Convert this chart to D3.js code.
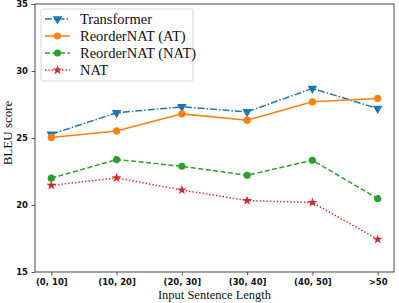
<!DOCTYPE html>
<html>
<head>
<meta charset="utf-8">
<script src="https://cdn.jsdelivr.net/npm/d3@7"></script>
<style>
  body { margin: 0; background: white; }
  svg { display: block; }
</style>
</head>
<body>
<div id="chart"></div>
<script>
var categories = ['(0, 10]', '(10, 20]', '(20, 30]', '(30, 40]', '(40, 50]', '>50'];
var transformer = [25.28, 26.88, 27.33, 26.95, 28.7, 27.2];
var reorder_at = [25.04, 25.53, 26.8, 26.33, 27.7, 27.95];
var reorder_nat = [22.0, 23.39, 22.89, 22.22, 23.34, 20.48];
var nat = [21.47, 22.02, 21.12, 20.33, 20.18, 17.44];
var y_ticks = [15, 20, 25, 30, 35];

var series = [
  {name: 'Transformer', values: transformer, color: '#1f77b4', dash: '7,2,1.5,2', marker: 'triangle'},
  {name: 'ReorderNAT (AT)', values: reorder_at, color: '#ff7f0e', dash: null, marker: 'circle'},
  {name: 'ReorderNAT (NAT)', values: reorder_nat, color: '#2ca02c', dash: '5,2.5', marker: 'circle'},
  {name: 'NAT', values: nat, color: '#d62728', dash: '1.4,2', marker: 'star'}
];

var width = 399, height = 303;
var margin = {top: 4, right: 5, bottom: 31, left: 35};
var plot_w = width - margin.left - margin.right;
var plot_h = height - margin.top - margin.bottom;

var svg = d3.select('#chart').append('svg')
    .attr('width', width)
    .attr('height', height);
var g = svg.append('g')
    .attr('transform', 'translate(' + margin.left + ',' + margin.top + ')');

var x = d3.scaleLinear().domain([-0.25, categories.length - 0.75]).range([0, plot_w]);
var y = d3.scaleLinear().domain([15, 35]).range([plot_h, 0]);

// axes
var tick_font = '"DejaVu Sans", sans-serif';
var x_axis = g.append('g')
    .attr('transform', 'translate(0,' + plot_h + ')')
    .call(d3.axisBottom(x).tickValues(d3.range(categories.length))
        .tickFormat(function(i) { return categories[i]; })
        .tickSize(3.5).tickPadding(3.5));
var y_axis = g.append('g')
    .call(d3.axisLeft(y).tickValues(y_ticks).tickSize(3.5).tickPadding(3.5));
[x_axis, y_axis].forEach(function(a) {
  a.select('.domain').remove();
  a.selectAll('line').attr('stroke', '#333').attr('stroke-width', 0.8);
  a.selectAll('text')
    .attr('fill', '#111')
    .style('font-family', tick_font)
    .style('font-weight', 'bold')
    .style('font-size', '8.5px');
});

// frame
g.append('rect')
    .attr('x', 0).attr('y', 0)
    .attr('width', plot_w).attr('height', plot_h)
    .attr('fill', 'none')
    .attr('stroke', '#333')
    .attr('stroke-width', 0.9);

// axis labels
svg.append('text')
    .attr('x', margin.left + plot_w / 2)
    .attr('y', 299)
    .attr('text-anchor', 'middle')
    .style('font-family', '"Liberation Serif", serif')
    .style('font-size', '12.5px')
    .attr('fill', '#111')
    .text('Input Sentence Length');
svg.append('text')
    .attr('transform', 'translate(12,133) rotate(-90)')
    .attr('text-anchor', 'middle')
    .style('font-family', '"Liberation Serif", serif')
    .style('font-size', '13px')
    .attr('fill', '#111')
    .text('BLEU score');

function draw_marker(sel, kind, color, cx, cy) {
  if (kind === 'circle') {
    sel.append('circle').attr('cx', cx).attr('cy', cy).attr('r', 3.6).attr('fill', color);
  } else if (kind === 'triangle') {
    sel.append('path')
      .attr('d', d3.symbol().type(d3.symbolTriangle).size(40)())
      .attr('transform', 'translate(' + cx + ',' + cy + ') rotate(180)')
      .attr('fill', color);
  } else {
    sel.append('path')
      .attr('d', d3.symbol().type(d3.symbolStar).size(30)())
      .attr('transform', 'translate(' + cx + ',' + cy + ')')
      .attr('fill', color);
  }
}

var line = d3.line()
    .x(function(d, i) { return x(i); })
    .y(function(d) { return y(d); });

series.forEach(function(s) {
  g.append('path')
    .datum(s.values)
    .attr('d', line)
    .attr('fill', 'none')
    .attr('stroke', s.color)
    .attr('stroke-width', 1.5)
    .attr('stroke-dasharray', s.dash);
  var mg = g.append('g');
  s.values.forEach(function(v, i) {
    draw_marker(mg, s.marker, s.color, x(i), y(v));
  });
});

// legend
var legend = svg.append('g').attr('transform', 'translate(41,9)');
legend.append('rect')
    .attr('x', 0).attr('y', 0)
    .attr('width', 152).attr('height', 72)
    .attr('rx', 2)
    .attr('fill', 'white')
    .attr('fill-opacity', 0.8)
    .attr('stroke', '#ccc')
    .attr('stroke-width', 0.8);
series.forEach(function(s, i) {
  var ly = 10 + 17 * i;
  legend.append('line')
    .attr('x1', 4).attr('x2', 29)
    .attr('y1', ly).attr('y2', ly)
    .attr('stroke', s.color)
    .attr('stroke-width', 1.5)
    .attr('stroke-dasharray', s.dash);
  draw_marker(legend, s.marker, s.color, 16.5, ly);
  legend.append('text')
    .attr('x', 39)
    .attr('y', ly + 4.8)
    .style('font-family', '"Liberation Serif", serif')
    .style('font-size', '14.5px')
    .attr('fill', '#111')
    .text(s.name);
});
</script>
</body>
</html>
